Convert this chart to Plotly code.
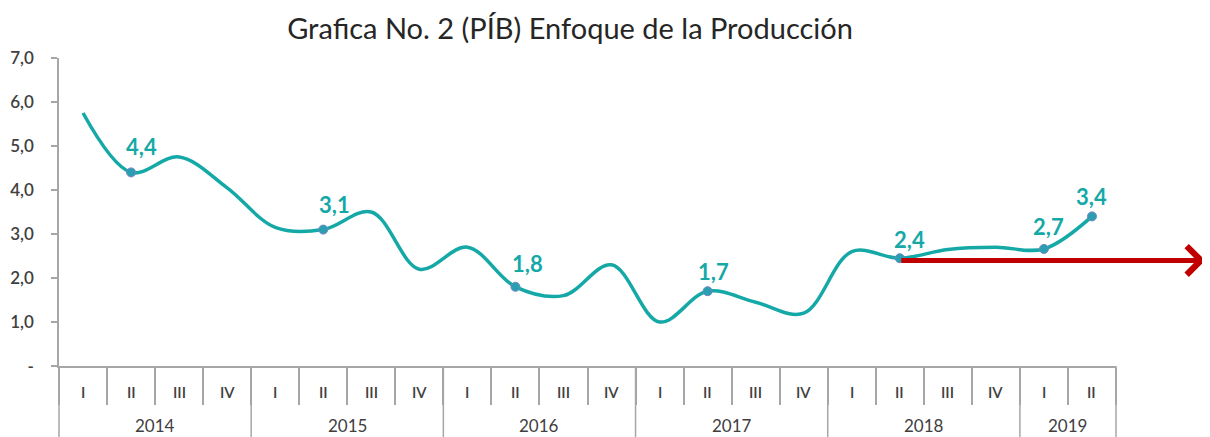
import plotly.graph_objects as go

# ---- data ----
years = ["2014", "2015", "2016", "2017", "2018", "2019"]
quarters_per_year = [4, 4, 4, 4, 4, 2]
quarter_names = ["I", "II", "III", "IV"]
values = [5.75, 4.4, 4.75, 4.05, 3.15, 3.1, 3.5, 2.2, 2.7, 1.8, 1.6, 2.3,
          1.0, 1.7, 1.45, 1.2, 2.6, 2.45, 2.65, 2.7, 2.66, 3.4]
labelled_idx = [1, 5, 9, 13, 17, 20, 21]
label_text = ["4,4", "3,1", "1,8", "1,7", "2,4", "2,7", "3,4"]
y_ticks = [0, 1, 2, 3, 4, 5, 6, 7]
y_ticktext = ["-", "1,0", "2,0", "3,0", "4,0", "5,0", "6,0", "7,0"]
trend_start_idx = 17
trend_level = 2.4
title_text = "Grafica No. 2 (PÍB) Enfoque de la Producción"

# ---- styles ----
TEAL = "#14A8A7"
GRAY = "#A6A6A6"
TXT = "#404040"
RED = "#C00000"
label_offsets = [(10, 26), (11, 25), (12, 23), (6, 20), (10, 19), (5, 22), (0, 20)]

# page body has an 8px margin: the figure is drawn 8px smaller and offset
FIG_W, FIG_H = 1202, 429

quarter_labels = []
for y, n in zip(years, quarters_per_year):
    for q in range(n):
        quarter_labels.append(quarter_names[q])
N = len(quarter_labels)
xs = list(range(N))

fig = go.Figure()
fig.add_trace(go.Scatter(
    x=xs, y=values, mode="lines",
    line=dict(color=TEAL, width=3.5, shape="spline", smoothing=1.0),
    hoverinfo="skip", showlegend=False))
fig.add_trace(go.Scatter(
    x=[xs[i] for i in labelled_idx], y=[values[i] for i in labelled_idx],
    mode="markers",
    marker=dict(color="#2A9FB2", size=9, line=dict(color="#6F86C4", width=1)),
    hoverinfo="skip", showlegend=False, cliponaxis=False))

annotations = []
# data labels
for i, t, (dx, dy) in zip(labelled_idx, label_text, label_offsets):
    annotations.append(dict(x=xs[i], y=values[i], xref="x", yref="y", text=f"<b>{t}</b>",
                            showarrow=False, xshift=dx, yshift=dy,
                            font=dict(family="Lato, Open Sans, sans-serif", size=22, color=TEAL)))
# quarter labels
for i, q in enumerate(quarter_labels):
    annotations.append(dict(x=xs[i], y=0, xref="x", yref="paper", text=q, showarrow=False,
                            yshift=-26, yanchor="middle",
                            font=dict(family="Lato, sans-serif", size=15, color=TXT, weight=600)))
# year labels and dividers
shapes = []
start = 0
for y, n in zip(years, quarters_per_year):
    center = start + (n - 1) / 2
    annotations.append(dict(x=center, y=0, xref="x", yref="paper", text=y, showarrow=False,
                            yshift=-59, yanchor="middle",
                            font=dict(family="Lato, sans-serif", size=17, color=TXT)))
    if start > 0:
        shapes.append(dict(type="line", xref="x", yref="paper", x0=start - 0.5, x1=start - 0.5,
                           y0=0, y1=-0.3, line=dict(color=GRAY, width=1.5)))
    start += n
for xp in (0, 1):
    shapes.append(dict(type="line", xref="paper", yref="paper", x0=xp, x1=xp,
                       y0=0, y1=-0.3, line=dict(color=GRAY, width=1.5)))

# red trend arrow
annotations.append(dict(x=N + 1.36, y=trend_level, xref="x", yref="y",
                        ax=xs[trend_start_idx], ay=trend_level, axref="x", ayref="y",
                        text="", showarrow=True, arrowhead=4, arrowsize=1.1,
                        arrowwidth=5, arrowcolor=RED))

fig.update_layout(
    width=FIG_W, height=FIG_H,
    margin=dict(l=51, r=94, t=50, b=71, autoexpand=False),
    paper_bgcolor="white", plot_bgcolor="white",
    title=dict(text=title_text, x=0.4835, xref="paper", xanchor="center",
               y=1 - 21 / FIG_H, yref="container", yanchor="middle",
               font=dict(family="Lato, sans-serif", size=29, color="#262626")),
    xaxis=dict(range=[-0.5, N - 0.5], showgrid=False, zeroline=False, automargin=False,
               showline=True, linecolor=GRAY, linewidth=1.5,
               tickvals=[i - 0.5 for i in range(N + 1)], ticks="outside", ticklen=37,
               tickcolor=GRAY, tickwidth=1.5, showticklabels=False),
    yaxis=dict(range=[0, 7], showgrid=False, zeroline=False, automargin=False,
               showline=True, linecolor=GRAY, linewidth=1.5,
               tickvals=y_ticks, ticktext=y_ticktext, ticks="outside", ticklen=6,
               tickcolor=GRAY, tickwidth=1.5, ticklabelstandoff=14,
               tickfont=dict(family="Lato, sans-serif", size=17, color=TXT, weight=600)),
    annotations=annotations, shapes=shapes,
)
fig.write_html("out.html")
